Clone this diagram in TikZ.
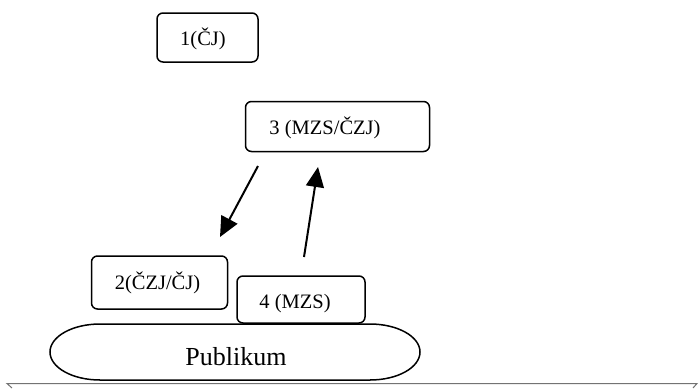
\documentclass[tikz,border=0pt]{standalone}
\usepackage{fontspec}
\setmainfont{Liberation Serif}
\usetikzlibrary{arrows.meta}
\tikzset{
  rbox/.style={draw=black, line width=1.5pt, rounded corners=6pt, inner sep=0pt},
  lbl/.style={font=\fontsize{20.5}{24}\selectfont, inner sep=0pt},
  bigarrow/.style={line width=2pt, -{Triangle[length=20pt,width=18pt]}},
  edge/.style={draw=black!55, line width=1pt}
}
\begin{document}
\begin{tikzpicture}[x=1pt,y=-1pt]
\useasboundingbox (0,0) rectangle (699,389);
% boxes
\node[rbox, minimum width=101pt, minimum height=49pt] (b1) at (207.5,37.5) {};
\node[rbox, minimum width=184pt, minimum height=50pt] (b3) at (337.5,126.5) {};
\node[rbox, minimum width=136pt, minimum height=53pt] (b2) at (159.5,282.5) {};
\node[rbox, minimum width=128pt, minimum height=47pt] (b4) at (301,299.5) {};
% labels
\node[lbl] (t1) at (203,39) {1(ČJ)};
\node[lbl] (t3) at (325,128) {3 (MZS/ČZJ)};
\node[lbl] (t2) at (157.5,283) {2(ČZJ/ČJ)};
\node[lbl] (t4) at (295,304) {4 (MZS)};
% audience: flat top and bottom with elliptical ends
\draw[line width=1.5pt] (100,324) -- (370,324)
  .. controls (397.6,324) and (420,336.5) .. (420,352)
  .. controls (420,367.5) and (397.6,380) .. (370,380)
  -- (100,380)
  .. controls (72.4,380) and (50,367.5) .. (50,352)
  .. controls (50,336.5) and (72.4,324) .. (100,324) -- cycle;
\node[inner sep=0pt, font=\fontsize{26}{30}\selectfont] (pub) at (236,357) {Publikum};
% arrows
\coordinate (a1s) at (258,166);
\coordinate (a1e) at (220,237);
\coordinate (a2s) at (304,257);
\coordinate (a2e) at (318,167);
\draw[bigarrow] (a1s) -- (a1e);
\draw[bigarrow] (a2s) -- (a2e);
% bottom edge
\coordinate (l0) at (7,383.5);
\coordinate (l1) at (697,383.5);
\draw[edge] (12,388) -- (l0) -- (l1) -- (693,388);
\end{tikzpicture}
\end{document}
